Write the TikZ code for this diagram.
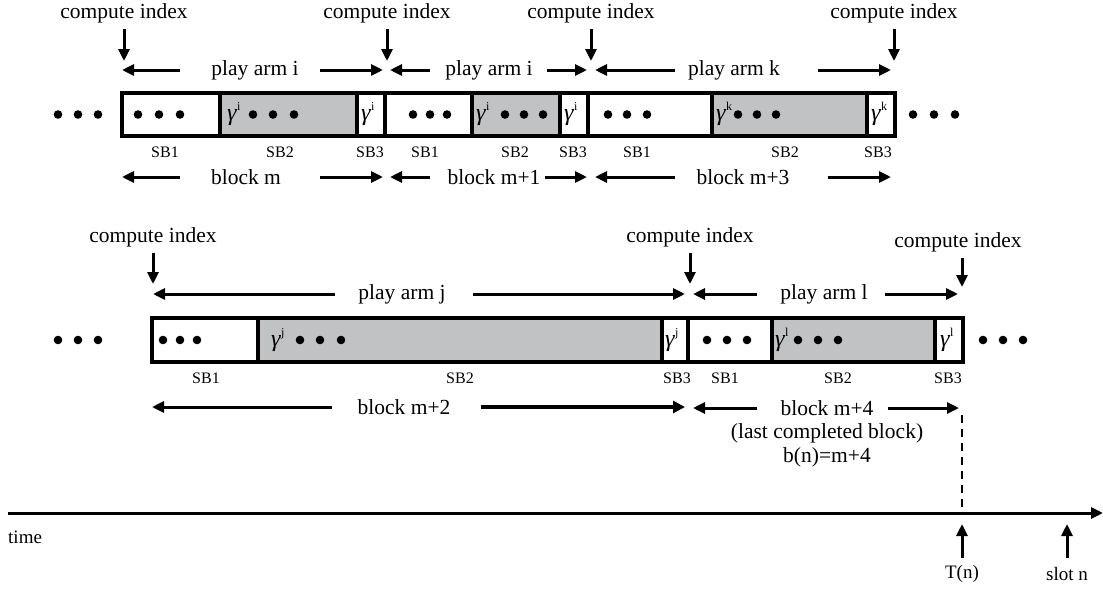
\documentclass[tikz,border=0pt]{standalone}
\usepackage{fontspec}
\setmainfont{Liberation Serif}
\usetikzlibrary{arrows.meta,calc}
\definecolor{sbgray}{RGB}{193,194,196}
\newcommand{\gm}[1]{\textit{γ}\raisebox{0.42em}{\fontsize{12}{12}\selectfont #1}}
\begin{document}
\begin{tikzpicture}[x=1pt,y=-1pt,
  seg/.style={draw, line width=3.5pt, inner sep=0pt, outer sep=0pt, minimum height=43pt, anchor=west},
  wseg/.style={seg, fill=white},
  gseg/.style={seg, fill=sbgray},
  lbl/.style={font=\fontsize{21.5}{24}\selectfont, inner sep=0pt},
  sbl/.style={font=\fontsize{16}{18}\selectfont, inner sep=0pt},
  axl/.style={font=\fontsize{19}{22}\selectfont, inner sep=0pt},
  gam/.style={font=\fontsize{24}{26}\selectfont, inner sep=0pt, anchor=west},
  arr/.style={line width=3pt, -{Triangle[length=12pt,width=11pt]}},
  thickarr/.style={line width=4.5pt, -{Triangle[length=12pt,width=12pt]}},
]
\useasboundingbox (0,0) rectangle (1103,592);

% ---------------- row 1 ----------------
\node[wseg, minimum width=98pt]  (A1) at (122,114.5) {};
\node[gseg, minimum width=137pt] (A2) at (220,114.5) {};
\node[wseg, minimum width=28pt]  (A3) at (357,114.5) {};
\node[wseg, minimum width=87pt]  (B1) at (385,114.5) {};
\node[gseg, minimum width=88pt]  (B2) at (472,114.5) {};
\node[wseg, minimum width=28pt]  (B3) at (560,114.5) {};
\node[wseg, minimum width=124pt] (C1) at (588,114.5) {};
\node[gseg, minimum width=155pt] (C2) at (712,114.5) {};
\node[wseg, minimum width=28pt]  (C3) at (867,114.5) {};

\foreach \x in {58,78,98,138,159,180,253,273,294,413,430,447,505,524,543,608,627,647,738,757,776,913,934,955}
  \fill (\x,114.5) circle (4.3pt);

\node[gam] (gA2) at (227,114) {\gm{i}};
\node[gam] (gA3) at (361,114) {\gm{i}};
\node[gam] (gB2) at (476,114) {\gm{i}};
\node[gam] (gB3) at (564,114) {\gm{i}};
\node[gam] (gC2) at (716,114) {\gm{k}};
\node[gam] (gC3) at (871,114) {\gm{k}};

\node[sbl] (sA1) at (165,152) {SB1};
\node[sbl] (sA2) at (280,152) {SB2};
\node[sbl] (sA3) at (370,152) {SB3};
\node[sbl] (sB1) at (425,152) {SB1};
\node[sbl] (sB2) at (515,152) {SB2};
\node[sbl] (sB3) at (573,152) {SB3};
\node[sbl] (sC1) at (637,152) {SB1};
\node[sbl] (sC2) at (785,152) {SB2};
\node[sbl] (sC3) at (878,152) {SB3};

% compute index row 1
\node[lbl] (ci1) at (124,13) {compute index};
\node[lbl] (ci2) at (387,13) {compute index};
\node[lbl] (ci3) at (591,13) {compute index};
\node[lbl] (ci4) at (894,13) {compute index};
\foreach \n in {ci1,ci2,ci3,ci4}
  \draw[arr] ($(\n)+(0,16)$) -- ($(\n)+(0,48)$);

% play arm row 1
\node[lbl] (pa1) at (255,70) {play arm i};
\node[lbl] (pa2) at (489,70) {play arm i};
\node[lbl] (pa3) at (734,70) {play arm k};
\draw[arr] ($(pa1.west)+(-31,0)$) -- (A1.west |- pa1);
\draw[arr] ($(pa1.east)+(21,0)$) -- ($(A3.east |- pa1)+(-2,0)$);
\draw[arr] ($(pa2.west)+(-15,0)$) -- ($(B1.west |- pa2)+(5,0)$);
\draw[arr] ($(pa2.east)+(14,0)$) -- ($(B3.east |- pa2)+(-1,0)$);
\draw[arr] ($(pa3.west)+(-13,0)$) -- ($(C1.west |- pa3)+(7,0)$);
\draw[arr] ($(pa3.east)+(38,0)$) -- ($(C3.east |- pa3)+(-4,0)$);

% block row 1
\node[lbl] (bm)  at (246,177) {block m};
\node[lbl] (bm1) at (494,177) {block m+1};
\node[lbl] (bm3) at (743,177) {block m+3};
\draw[arr] ($(bm.west)+(-31,0)$) -- (A1.west |- bm);
\draw[arr] ($(bm.east)+(39,0)$) -- ($(A3.east |- bm)+(-2,0)$);
\draw[arr] ($(bm1.west)+(-17,0)$) -- ($(B1.west |- bm1)+(5,0)$);
\draw[arr] ($(bm1.east)+(4,0)$) -- ($(B3.east |- bm1)+(-1,0)$);
\draw[arr] ($(bm3.west)+(-21,0)$) -- ($(C1.west |- bm3)+(7,0)$);
\draw[arr] ($(bm3.east)+(38,0)$) -- ($(C3.east |- bm3)+(-4,0)$);

% ---------------- row 2 ----------------
\tikzset{seg/.append style={minimum height=44pt}}
\node[wseg, minimum width=106pt] (D1) at (152,340) {};
\node[gseg, minimum width=404pt] (D2) at (258,340) {};
\node[wseg, minimum width=26pt]  (D3) at (662,340) {};
\node[wseg, minimum width=84pt]  (E1) at (688,340) {};
\node[gseg, minimum width=163pt] (E2) at (772,340) {};
\node[wseg, minimum width=28pt]  (E3) at (935,340) {};

\foreach \x in {58,78,98,163,180,197,300,320,341,707,727,747,798,818,838,983,1003,1023}
  \fill (\x,340) circle (4.3pt);

\node[gam] (gD2) at (271,340) {\gm{j}};
\node[gam] (gD3) at (665,340) {\gm{j}};
\node[gam] (gE2) at (775,340) {\gm{l}};
\node[gam] (gE3) at (940,340) {\gm{l}};

\node[sbl] (sD1) at (206,378) {SB1};
\node[sbl] (sD2) at (460,378) {SB2};
\node[sbl] (sD3) at (677,378) {SB3};
\node[sbl] (sE1) at (725,378) {SB1};
\node[sbl] (sE2) at (838,378) {SB2};
\node[sbl] (sE3) at (948,378) {SB3};

% compute index row 2
\node[lbl] (ci5) at (153,237) {compute index};
\node[lbl] (ci6) at (690,237) {compute index};
\node[lbl] (ci7) at (958,242) {compute index};
\draw[arr] ($(ci5)+(0,16)$) -- ($(ci5)+(0,47)$);
\draw[arr] ($(ci6)+(0,16)$) -- ($(ci6)+(0,47)$);
\draw[arr] ($(ci7)+(4,16)$) -- ($(ci7)+(4,45)$);

% play arm row 2
\node[lbl] (pa4) at (402,294) {play arm j};
\node[lbl] (pa5) at (824,294) {play arm l};
\draw[arr] ($(pa4.west)+(-23,0)$) -- ($(D1.west |- pa4)+(1,0)$);
\draw[arr] ($(pa4.east)+(27,0)$) -- ($(D3.east |- pa4)+(-3,0)$);
\draw[arr] ($(pa5.west)+(-23,0)$) -- ($(E1.west |- pa5)+(5,0)$);
\draw[arr] ($(pa5.east)+(17,0)$) -- ($(E3.east |- pa5)+(-5,0)$);

% block row 2
\node[lbl] (bm2) at (404,407) {block m+2};
\node[lbl] (bm4) at (827,408) {block m+4};
\node[lbl] (lcb) at (827,433) {(last completed block)};
\node[lbl] (bn)  at (827,457) {b(n)=m+4};
\draw[arr] ($(bm2.west)+(-25,0)$) -- (D1.west |- bm2);
\draw[thickarr] ($(bm2.east)+(30,0)$) -- ($(D3.east |- bm2)+(-3,0)$);
\draw[arr] ($(bm4.west)+(-23,0)$) -- ($(E1.west |- bm4)+(5,0)$);
\draw[arr] ($(bm4.east)+(14,0)$) -- ($(E3.east |- bm4)+(-4,0)$);

% ---------------- time axis ----------------
\coordinate (t0) at (8,513);
\coordinate (t1) at (1103,513);
\draw[arr] (t0) -- (t1);
\node[axl, anchor=west] (time) at (8,537) {time};
\draw[line width=2pt, dash pattern=on 8pt off 6pt] ($(E3.east)+(-1,75)$) -- ($(E3.east |- t0)+(-1,0)$);

\node[axl] (tn) at (962,574) {T(n)};
\node[axl] (sn) at (1067,574) {slot n};
\draw[arr] ($(tn)+(0,-16)$) -- ($(tn)+(0,-50)$);
\draw[arr] ($(sn)+(0,-16)$) -- ($(sn)+(0,-50)$);
\end{tikzpicture}
\end{document}
